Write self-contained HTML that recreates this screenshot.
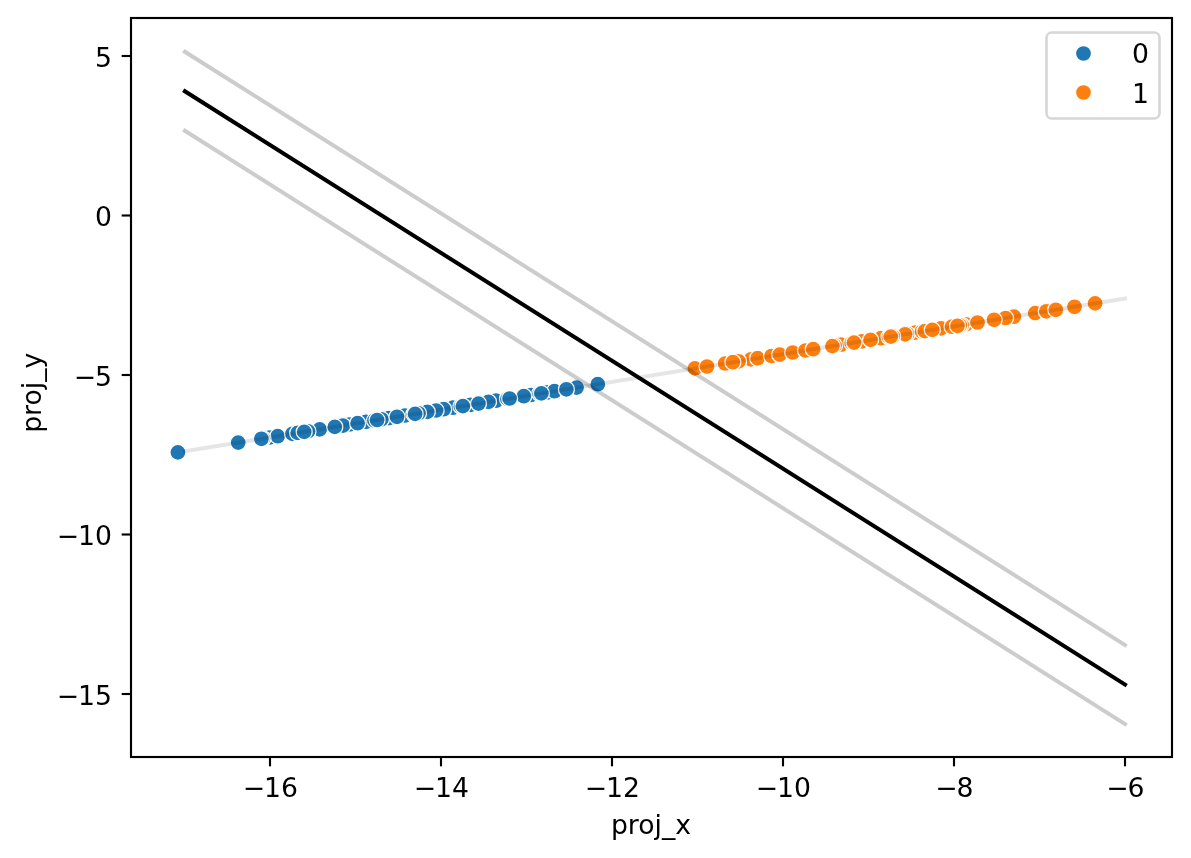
<!DOCTYPE html>
<html lang="en"><head><meta charset="utf-8"><title>proj scatter</title>
<style>
html,body{margin:0;padding:0;background:#fff;}
svg{display:block;}
text{font-family:"DejaVu Sans","Liberation Sans",sans-serif;font-size:26.667px;fill:#000;}
</style></head><body>
<svg width="1191" height="858" viewBox="0 0 1191 858">
<rect width="1191" height="858" fill="#fff"/>
<g stroke="#fff" stroke-width="1.28"><circle cx="269.5" cy="437.5" r="8" fill="#1f77b4"/><circle cx="349.5" cy="424.5" r="8" fill="#1f77b4"/><circle cx="366.0" cy="421.8" r="8" fill="#1f77b4"/><circle cx="389.0" cy="418.1" r="8" fill="#1f77b4"/><circle cx="405.0" cy="415.5" r="8" fill="#1f77b4"/><circle cx="453.0" cy="407.7" r="8" fill="#1f77b4"/><circle cx="470.5" cy="404.9" r="8" fill="#1f77b4"/><circle cx="531.0" cy="395.0" r="8" fill="#1f77b4"/><circle cx="548.0" cy="392.3" r="8" fill="#1f77b4"/><circle cx="177.9" cy="452.4" r="8" fill="#1f77b4"/><circle cx="238.2" cy="442.6" r="8" fill="#1f77b4"/><circle cx="277.7" cy="436.2" r="8" fill="#1f77b4"/><circle cx="319.7" cy="429.4" r="8" fill="#1f77b4"/><circle cx="263.0" cy="438.6" r="8" fill="#1f77b4"/><circle cx="261.4" cy="438.8" r="8" fill="#1f77b4"/><circle cx="292.5" cy="433.8" r="8" fill="#1f77b4"/><circle cx="297.7" cy="432.9" r="8" fill="#1f77b4"/><circle cx="308.0" cy="431.3" r="8" fill="#1f77b4"/><circle cx="304.2" cy="431.9" r="8" fill="#1f77b4"/><circle cx="343.0" cy="425.6" r="8" fill="#1f77b4"/><circle cx="334.8" cy="426.9" r="8" fill="#1f77b4"/><circle cx="357.6" cy="423.2" r="8" fill="#1f77b4"/><circle cx="374.5" cy="420.5" r="8" fill="#1f77b4"/><circle cx="381.4" cy="419.3" r="8" fill="#1f77b4"/><circle cx="377.1" cy="420.0" r="8" fill="#1f77b4"/><circle cx="397.0" cy="416.8" r="8" fill="#1f77b4"/><circle cx="443.7" cy="409.2" r="8" fill="#1f77b4"/><circle cx="436.1" cy="410.5" r="8" fill="#1f77b4"/><circle cx="427.3" cy="411.9" r="8" fill="#1f77b4"/><circle cx="418.5" cy="413.3" r="8" fill="#1f77b4"/><circle cx="413.9" cy="414.1" r="8" fill="#1f77b4"/><circle cx="415.1" cy="413.9" r="8" fill="#1f77b4"/><circle cx="461.0" cy="406.4" r="8" fill="#1f77b4"/><circle cx="462.9" cy="406.1" r="8" fill="#1f77b4"/><circle cx="496.0" cy="400.7" r="8" fill="#1f77b4"/><circle cx="488.5" cy="401.9" r="8" fill="#1f77b4"/><circle cx="478.5" cy="403.6" r="8" fill="#1f77b4"/><circle cx="523.8" cy="396.2" r="8" fill="#1f77b4"/><circle cx="507.5" cy="398.9" r="8" fill="#1f77b4"/><circle cx="509.6" cy="398.5" r="8" fill="#1f77b4"/><circle cx="554.5" cy="391.2" r="8" fill="#1f77b4"/><circle cx="539.7" cy="393.6" r="8" fill="#1f77b4"/><circle cx="541.4" cy="393.4" r="8" fill="#1f77b4"/><circle cx="576.6" cy="387.6" r="8" fill="#1f77b4"/><circle cx="566.4" cy="389.3" r="8" fill="#1f77b4"/><circle cx="597.8" cy="384.2" r="8" fill="#1f77b4"/><circle cx="915.0" cy="332.7" r="8" fill="#ff7f0e"/><circle cx="966.0" cy="324.4" r="8" fill="#ff7f0e"/><circle cx="694.9" cy="368.4" r="8" fill="#ff7f0e"/><circle cx="707.0" cy="366.5" r="8" fill="#ff7f0e"/><circle cx="725.2" cy="363.5" r="8" fill="#ff7f0e"/><circle cx="751.0" cy="359.3" r="8" fill="#ff7f0e"/><circle cx="738.6" cy="361.3" r="8" fill="#ff7f0e"/><circle cx="732.9" cy="362.2" r="8" fill="#ff7f0e"/><circle cx="757.6" cy="358.2" r="8" fill="#ff7f0e"/><circle cx="771.5" cy="356.0" r="8" fill="#ff7f0e"/><circle cx="779.7" cy="354.6" r="8" fill="#ff7f0e"/><circle cx="792.7" cy="352.5" r="8" fill="#ff7f0e"/><circle cx="805.5" cy="350.5" r="8" fill="#ff7f0e"/><circle cx="813.2" cy="349.2" r="8" fill="#ff7f0e"/><circle cx="841.0" cy="344.7" r="8" fill="#ff7f0e"/><circle cx="834.5" cy="345.7" r="8" fill="#ff7f0e"/><circle cx="832.4" cy="346.1" r="8" fill="#ff7f0e"/><circle cx="851.8" cy="342.9" r="8" fill="#ff7f0e"/><circle cx="862.0" cy="341.3" r="8" fill="#ff7f0e"/><circle cx="854.0" cy="342.6" r="8" fill="#ff7f0e"/><circle cx="881.0" cy="338.2" r="8" fill="#ff7f0e"/><circle cx="870.6" cy="339.9" r="8" fill="#ff7f0e"/><circle cx="907.3" cy="333.9" r="8" fill="#ff7f0e"/><circle cx="905.1" cy="334.3" r="8" fill="#ff7f0e"/><circle cx="892.7" cy="336.3" r="8" fill="#ff7f0e"/><circle cx="889.0" cy="336.9" r="8" fill="#ff7f0e"/><circle cx="890.8" cy="336.6" r="8" fill="#ff7f0e"/><circle cx="922.1" cy="331.5" r="8" fill="#ff7f0e"/><circle cx="924.8" cy="331.1" r="8" fill="#ff7f0e"/><circle cx="941.0" cy="328.4" r="8" fill="#ff7f0e"/><circle cx="932.3" cy="329.9" r="8" fill="#ff7f0e"/><circle cx="952.0" cy="326.7" r="8" fill="#ff7f0e"/><circle cx="961.7" cy="325.1" r="8" fill="#ff7f0e"/><circle cx="959.7" cy="325.4" r="8" fill="#ff7f0e"/><circle cx="957.5" cy="325.8" r="8" fill="#ff7f0e"/><circle cx="977.5" cy="322.5" r="8" fill="#ff7f0e"/><circle cx="1013.9" cy="316.6" r="8" fill="#ff7f0e"/><circle cx="1005.6" cy="318.0" r="8" fill="#ff7f0e"/><circle cx="994.1" cy="319.8" r="8" fill="#ff7f0e"/><circle cx="1035.2" cy="313.1" r="8" fill="#ff7f0e"/><circle cx="1046.3" cy="311.3" r="8" fill="#ff7f0e"/><circle cx="1055.8" cy="309.8" r="8" fill="#ff7f0e"/><circle cx="1074.5" cy="306.8" r="8" fill="#ff7f0e"/><circle cx="1095.1" cy="303.4" r="8" fill="#ff7f0e"/></g>
<g fill="none" stroke="#000" stroke-width="4" stroke-linecap="square">
<line x1="184.9" y1="91.3" x2="1125" y2="684.5"/>
<line x1="184.9" y1="51.8" x2="1125" y2="645" stroke-opacity="0.2"/>
<line x1="184.9" y1="130.8" x2="1125" y2="724" stroke-opacity="0.2"/>
<line x1="184.9" y1="451.3" x2="1125" y2="298.6" stroke-opacity="0.1"/>
</g>
<g stroke="#000" stroke-width="2.133"><line x1="270" y1="757.0" x2="270" y2="766.33"/><line x1="441" y1="757.0" x2="441" y2="766.33"/><line x1="612" y1="757.0" x2="612" y2="766.33"/><line x1="783" y1="757.0" x2="783" y2="766.33"/><line x1="954" y1="757.0" x2="954" y2="766.33"/><line x1="1125" y1="757.0" x2="1125" y2="766.33"/><line x1="121.67" y1="56" x2="131.0" y2="56"/><line x1="121.67" y1="215.5" x2="131.0" y2="215.5"/><line x1="121.67" y1="375" x2="131.0" y2="375"/><line x1="121.67" y1="534.5" x2="131.0" y2="534.5"/><line x1="121.67" y1="694" x2="131.0" y2="694"/></g>
<rect x="131.0" y="18.0" width="1041.0" height="739.0" fill="none" stroke="#000" stroke-width="2.133"/>
<g><text x="270.4" y="797" text-anchor="middle">−<tspan dx="-1.1">16</tspan></text><text x="441.4" y="797" text-anchor="middle">−<tspan dx="-1.1">14</tspan></text><text x="612.4" y="797" text-anchor="middle">−<tspan dx="-1.1">12</tspan></text><text x="783.4" y="797" text-anchor="middle">−<tspan dx="-1.1">10</tspan></text><text x="954.4" y="797" text-anchor="middle">−<tspan dx="-1.1">8</tspan></text><text x="1125.4" y="797" text-anchor="middle">−<tspan dx="-1.1">6</tspan></text></g><g><text x="112" y="67" text-anchor="end">5</text><text x="112" y="226" text-anchor="end">0</text><text x="112" y="386" text-anchor="end">−<tspan dx="-1.1">5</tspan></text><text x="112" y="545" text-anchor="end">−<tspan dx="-1.1">10</tspan></text><text x="112" y="705" text-anchor="end">−<tspan dx="-1.1">15</tspan></text></g>
<text x="651.0" y="834.3" text-anchor="middle">proj_x</text>
<text transform="translate(40.9,392.8) rotate(-90)" text-anchor="middle">proj_y</text>
<rect x="1046.5" y="32.5" width="113" height="86" rx="5.33" fill="#fff" fill-opacity="0.8" stroke="#ccc" stroke-opacity="0.8" stroke-width="2.6"/>
<g stroke="#fff" stroke-width="1.28"><circle cx="1083.5" cy="53.5" r="8" fill="#1f77b4"/><circle cx="1083.5" cy="92.5" r="8" fill="#ff7f0e"/></g>
<text x="1131.9" y="63">0</text><text x="1131.9" y="102.5">1</text>
</svg>
</body></html>
